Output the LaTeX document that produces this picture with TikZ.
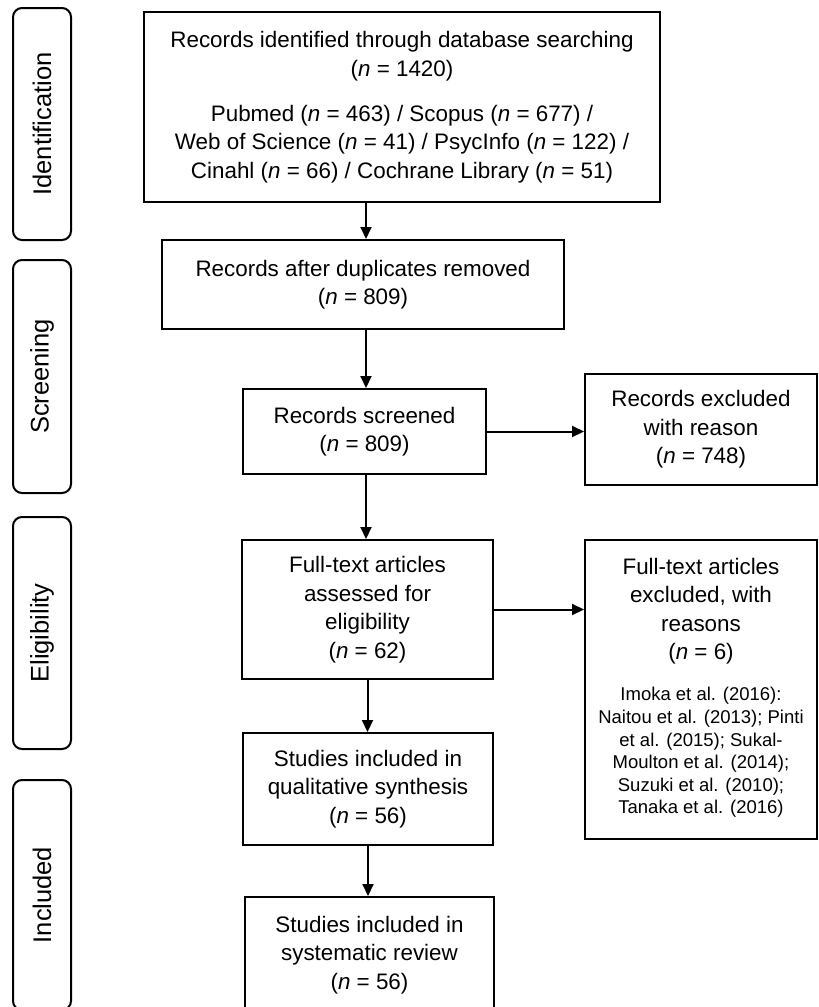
\documentclass[tikz,border=0pt]{standalone}
\usepackage{fontspec}
\setmainfont{Liberation Sans}
\usetikzlibrary{arrows.meta, calc}
\newcommand{\reffont}{\fontsize{18.5}{22.6}\selectfont}

\begin{document}
\begin{tikzpicture}[x=1pt, y=-1pt,
    box/.style={draw, line width=2pt, inner sep=0pt, align=center,
        font=\fontsize{22.4}{28.5}\selectfont},
    phase/.style={draw, line width=2pt, rounded corners=9pt, inner sep=0pt,
        minimum width=58pt, font=\fontsize{25.5}{30}\selectfont},
    arr/.style={line width=2pt, -{Triangle[length=12pt, width=11pt]}}]
\useasboundingbox (0,0) rectangle (819,1007);
\clip (0,0) rectangle (819,1007);
%------------------------------
% phase labels on the left
%______________________________
\node[phase, minimum height=232pt] (ident) at (42,124) {\rotatebox{90}{Identification}};
\node[phase, minimum height=233pt] (screen) at (42,376.5) {\rotatebox{90}{Screening}};
\node[phase, minimum height=232pt] (elig) at (42,633) {\rotatebox{90}{Eligibility}};
\node[phase, minimum height=230pt] (incl) at (42,895) {\rotatebox{90}{Included}};
%
%------------------------------
% main column
%______________________________
\node[box, minimum width=516pt, minimum height=190pt] (found) at (402,107)
    {Records identified through database searching\\
     (\textit{n} = 1420)\\[16.5pt]
     Pubmed (\textit{n} = 463) / Scopus (\textit{n} = 677) /\\
     Web of Science (\textit{n} = 41) / PsycInfo (\textit{n} = 122) /\\
     Cinahl (\textit{n} = 66) / Cochrane Library (\textit{n} = 51)};
\node[box, minimum width=402pt, minimum height=89pt] (dupl) at (363,284.5)
    {Records after duplicates removed\\(\textit{n} = 809)};
\node[box, minimum width=243pt, minimum height=85pt] (scrn) at (364.5,431.5)
    {Records screened\\(\textit{n} = 809)};
\node[box, minimum width=251pt, minimum height=139pt] (full) at (367.5,609.5)
    {Full-text articles\\assessed for\\eligibility\\(\textit{n} = 62)};
\node[box, minimum width=250pt, minimum height=112pt] (qual) at (368,789)
    {Studies included in\\qualitative synthesis\\(\textit{n} = 56)};
\node[box, minimum width=249pt, minimum height=116pt] (syst) at (369.5,955)
    {Studies included in\\systematic review\\(\textit{n} = 56)};
%
%------------------------------
% exclusions on the right
%______________________________
\node[box, minimum width=232pt, minimum height=111pt] (excl) at (701,429.5)
    {Records excluded\\with reason\\(\textit{n} = 748)};
\node[box, minimum width=232pt, minimum height=299pt] (exfull) at (701,689.5)
    {Full-text articles\\excluded, with\\reasons\\(\textit{n} = 6)\\[12.5pt]
     {\reffont\begin{tabular}[t]{@{}c@{}}
        Imoka et al. (2016):\\
        Naitou et al. (2013); Pinti\\
        et al. (2015); Sukal-\\
        Moulton et al. (2014);\\
        Suzuki et al. (2010);\\
        Tanaka et al. (2016)
     \end{tabular}}};
%
%------------------------------
% arrows
%______________________________
\coordinate (axis) at (366,0);
\draw[arr] (found.south -| axis) -- (dupl.north -| axis);
\draw[arr] (dupl.south -| axis) -- (scrn.north -| axis);
\draw[arr] (scrn.south -| axis) -- (full.north -| axis);
\draw[arr] (full.south) -- (full.south |- qual.north);
\draw[arr] (qual.south) -- (qual.south |- syst.north);
\draw[arr] (scrn.east) -- (scrn.east -| excl.west);
\draw[arr] (full.east) -- (full.east -| exfull.west);
\end{tikzpicture}
\end{document}
